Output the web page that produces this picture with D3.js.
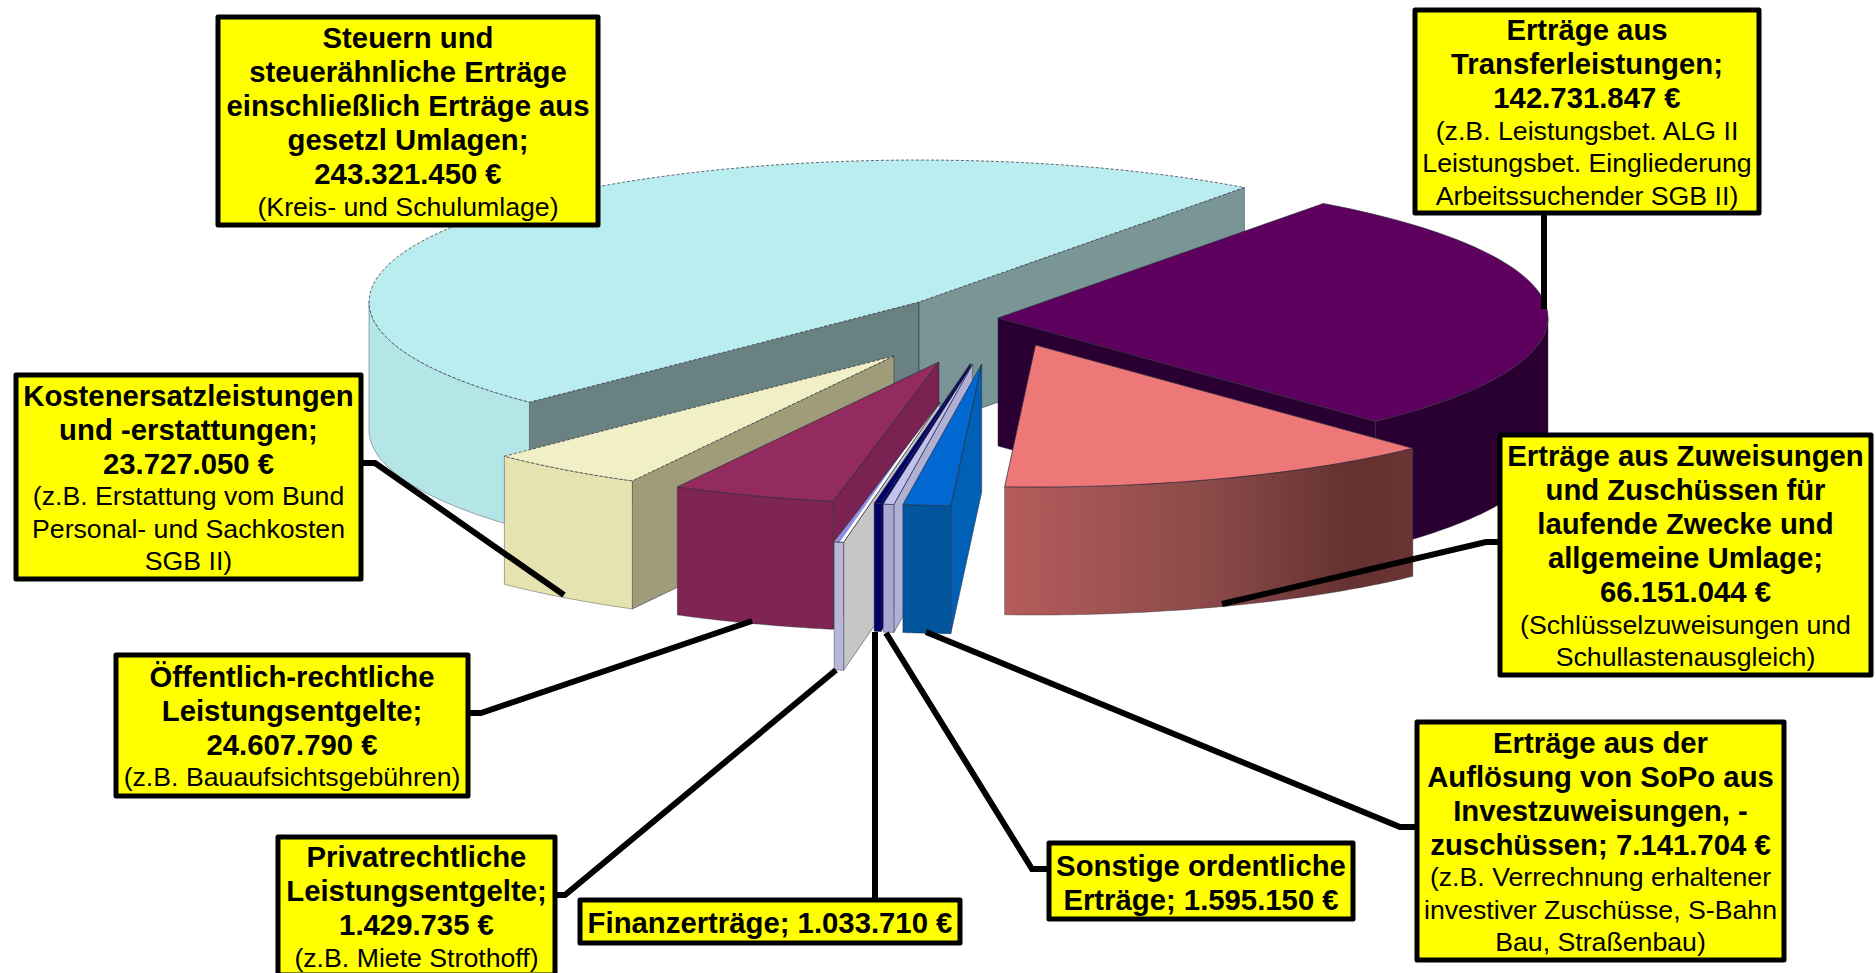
<!DOCTYPE html>
<html lang="de">
<head>
    <meta charset="UTF-8">
    <title>Erträge</title>
    <style>
        body { margin: 0; background: #fff; overflow: hidden; }
        svg { display: block; }
        text { font-family: "Liberation Sans", Arial, sans-serif; fill: #000; text-anchor: middle; }
    </style>
    <script src="https://d3js.org/d3.v7.min.js"></script>
</head>
<body>
    <script>
        // Werte im Uhrzeigersinn, beginnend mit dem grossen Stueck
        const categories = ["Steuern", "Transfer", "Zuweisungen", "SoPo", "Sonstige", "Finanz", "Privat", "Oeffentlich", "Kosten"];
        const values = [243321450, 142731847, 66151044, 7141704, 1595150, 1033710, 1429735, 24607790, 23727050];

        // {v} wird durch den Wert ersetzt
        const boldLines = [
            ["Steuern und", "steuerähnliche Erträge", "einschließlich Erträge aus", "gesetzl Umlagen;", "{v}"],
            ["Erträge aus", "Transferleistungen;", "{v}"],
            ["Erträge aus Zuweisungen", "und Zuschüssen für", "laufende Zwecke und", "allgemeine Umlage;", "{v}"],
            ["Erträge aus der", "Auflösung von SoPo aus", "Investzuweisungen, -", "zuschüssen; {v}"],
            ["Sonstige ordentliche", "Erträge; {v}"],
            ["Finanzerträge; {v}"],
            ["Privatrechtliche", "Leistungsentgelte;", "{v}"],
            ["Öffentlich-rechtliche", "Leistungsentgelte;", "{v}"],
            ["Kostenersatzleistungen", "und -erstattungen;", "{v}"]
        ];
        const noteLines = [
            ["(Kreis- und Schulumlage)"],
            ["(z.B. Leistungsbet. ALG II", "Leistungsbet. Eingliederung", "Arbeitssuchender SGB II)"],
            ["(Schlüsselzuweisungen und", "Schullastenausgleich)"],
            ["(z.B. Verrechnung erhaltener", "investiver Zuschüsse, S-Bahn", "Bau, Straßenbau)"],
            [],
            [],
            ["(z.B. Miete Strothoff)"],
            ["(z.B. Bauaufsichtsgebühren)"],
            ["(z.B. Erstattung vom Bund", "Personal- und Sachkosten", "SGB II)"]
        ];

        const width = 1876;
        const height = 973;
        const depth = 128;
        const startDeg = 225.1;

        const x = d3.scaleLinear().domain([-1, 1]).range([369, 1469]);
        const y = d3.scaleLinear().domain([-1, 1]).range([160, 444]);

        // Versatz der herausgezogenen Stuecke
        const explode = [[0, 0], [79, 16], [116.5, 43], [62.7, 62], [53.7, 62], [51.5, 61.5], [21, 100.5], [20, 60], [-25, 54]];

        const topColors = ["#b9edef", "#5e005e", "#ee7878", "#0068d0", "#c2c2ec", "#00006e", "url(#hatch)", "#932b60", "#f1efc6"];
        const outerColors = ["#b4e6e8", "#2a0033", "url(#zuwGrad)", "#00559c", "#a9a9cf", "#000066", "#b7b7d9", "#7f2552", "#e5e3b0"];
        const startWallColors = ["#6a8182", "#2a0033", "#5e2e2e", "#0060b5", "#b0b0d5", "#000066", "#c6c6c6", "#7a2352", "#a09c7a"];
        const endWallColors = ["#7a9595", "#2a0033", "#5e2e2e", "#0060b5", "#b0b0d5", "#000066", "#c6c6c6", "#7a2352", "#a09c7a"];
        const dashedFaces = ["Steuern", "Kosten"];

        // hinten nach vorne
        const drawOrder = [0, 1, 2, 8, 7, 6, 5, 4, 3];

        // Textkaesten: x, y, b, h
        const boxes = [
            [218, 17, 380, 208],
            [1415, 10, 344, 203],
            [1500, 435, 371, 240],
            [1417, 722, 367, 238],
            [1049, 843, 304, 76],
            [580, 900, 380, 43],
            [278, 837, 277, 138],
            [116, 655, 352, 141],
            [16, 375, 345, 204]
        ];
        const leaders = [
            null,
            [[1544, 214], [1544, 309]],
            [[1498, 542], [1486, 542], [1222, 604]],
            [[1415, 827], [1400, 827], [926, 632]],
            [[1047, 869], [1032, 869], [886, 633]],
            [[875, 898], [875, 632]],
            [[556, 895], [565, 895], [836, 670]],
            [[470, 713], [481, 713], [752, 621]],
            [[363, 463], [375, 463], [564, 595]]
        ];

        const svg = d3.select("body").append("svg")
            .attr("width", width)
            .attr("height", height);

        const defs = svg.append("defs");
        const grad = defs.append("linearGradient").attr("id", "zuwGrad");
        grad.append("stop").attr("offset", "0%").attr("stop-color", "#b55c5c");
        grad.append("stop").attr("offset", "50%").attr("stop-color", "#8a4a48");
        grad.append("stop").attr("offset", "85%").attr("stop-color", "#643230");
        grad.append("stop").attr("offset", "100%").attr("stop-color", "#6a3433");
        const hatch = defs.append("pattern").attr("id", "hatch")
            .attr("width", 8).attr("height", 8)
            .attr("patternUnits", "userSpaceOnUse")
            .attr("patternTransform", "rotate(35)");
        hatch.append("rect").attr("width", 8).attr("height", 8).attr("fill", "#fff");
        hatch.append("rect").attr("width", 4).attr("height", 8).attr("fill", "#8f8fe6");

        const pie = d3.pie().sort(null)
            .startAngle(startDeg * Math.PI / 180)
            .endAngle((startDeg + 360) * Math.PI / 180);
        // Winkel hinter 360 Grad zurueckholen, ausser beim Stueck ueber die Naht
        const arcs = pie(values).map(d => {
            const turn = d.startAngle >= 2 * Math.PI ? 2 * Math.PI : 0;
            return { startAngle: d.startAngle - turn, endAngle: d.endAngle - turn };
        });

        const line = d3.line();
        const pt = (a, dz = 0) => [x(Math.sin(a)), y(-Math.cos(a)) + dz];
        const center = [x(0), y(0)];
        const arcPts = (a0, a1, dz = 0) => d3.range(0, 61).map(i => pt(a0 + (a1 - a0) * i / 60, dz));

        function edgeWall(a) {
            return line([center, pt(a), pt(a, depth), [center[0], center[1] + depth]]) + "Z";
        }

        const edge = "#2b2b3a";
        drawOrder.forEach(i => {
            const d = arcs[i];
            const g = svg.append("g")
                .attr("class", "slice " + categories[i])
                .attr("transform", `translate(${explode[i][0]},${explode[i][1]})`);

            // Schnittflaechen, nur wenn sie zum Betrachter zeigen
            if (Math.sin(d.startAngle) < 0) {
                g.append("path").attr("d", edgeWall(d.startAngle))
                    .attr("fill", startWallColors[i]).attr("stroke", edge).attr("stroke-width", 0.5);
            }
            if (Math.sin(d.endAngle) > 0) {
                g.append("path").attr("d", edgeWall(d.endAngle))
                    .attr("fill", endWallColors[i]).attr("stroke", edge).attr("stroke-width", 0.5);
            }

            // Aussenwand
            const a0 = Math.max(d.startAngle, Math.PI / 2);
            const a1 = Math.min(d.endAngle, Math.PI * 1.5);
            if (a1 > a0) {
                const wall = arcPts(a0, a1).concat(arcPts(a1, a0, depth));
                g.append("path").attr("d", line(wall) + "Z")
                    .attr("fill", outerColors[i]).attr("stroke", edge).attr("stroke-width", 0.4);
            }

            // Deckflaeche
            const face = [center].concat(arcPts(d.startAngle, d.endAngle));
            g.append("path").attr("d", line(face) + "Z")
                .attr("fill", topColors[i]).attr("stroke", edge).attr("stroke-width", 0.7)
                .attr("stroke-dasharray", dashedFaces.includes(categories[i]) ? "3 2" : null);
        });

        // Linien
        svg.append("g").selectAll("path")
            .data(leaders.filter(d => d))
            .join("path")
            .attr("d", d => line(d))
            .attr("fill", "none")
            .attr("stroke", "#000")
            .attr("stroke-width", 6);

        // Beschriftung
        const fmt = d3.formatLocale({ decimal: ",", thousands: ".", grouping: [3], currency: ["", " €"] }).format("$,.0f");
        const boldStep = 34;
        const noteStep = 32.5;

        boxes.forEach((b, i) => {
            const g = svg.append("g").attr("class", "label");
            g.append("rect")
                .attr("x", b[0]).attr("y", b[1]).attr("width", b[2]).attr("height", b[3])
                .attr("fill", "#ffff00").attr("stroke", "#000").attr("stroke-width", 5)
                .attr("stroke-linejoin", "round");

            const bold = boldLines[i].map(s => s.replace("{v}", fmt(values[i])));
            const notes = noteLines[i];
            const total = bold.length * boldStep + notes.length * noteStep;
            let yy = b[1] + (b[3] - total) / 2;
            bold.forEach(s => {
                g.append("text").attr("x", b[0] + b[2] / 2).attr("y", yy + 28.5)
                    .attr("font-size", 29.3).attr("font-weight", "bold").text(s);
                yy += boldStep;
            });
            notes.forEach(s => {
                g.append("text").attr("x", b[0] + b[2] / 2).attr("y", yy + 26)
                    .attr("font-size", 26.7).text(s);
                yy += noteStep;
            });
        });
    </script>
</body>
</html>
